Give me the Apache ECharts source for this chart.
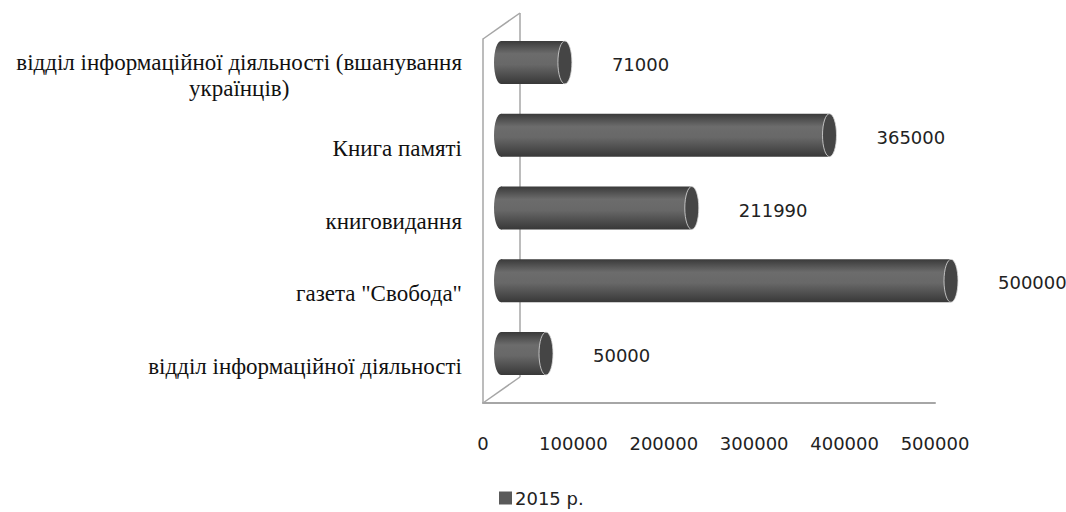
<!DOCTYPE html>
<html>
<head>
<meta charset="utf-8">
<script src="https://cdn.jsdelivr.net/npm/echarts@6/dist/echarts.min.js"></script>
<style>
html,body{margin:0;padding:0;background:#fff;}
#chart{width:1066px;height:512px;}
</style>
</head>
<body>
<div id="chart"></div>
<script>
// ---- data ----
const categories = [
  'відділ інформаційної діяльності',
  'газета "Свобода"',
  'книговидання',
  'Книга памяті',
  'відділ інформаційної діяльності (вшанування українців)'
];
const values2015 = [50000, 500000, 211990, 365000, 71000];
const seriesName = '2015 р.';
const axisMin = 0, axisMax = 500000, axisInterval = 100000;

// ---- layout ----
const front = {left: 483, top: 39, right: 131, bottom: 109};
const depth = {dx: 37, dy: -26};
const mid = {dx: 18, dy: -13};
const W = 1066, H = 512;

const chart = echarts.init(document.getElementById('chart'), null, {renderer: 'svg'});

function wrapLabel(s) {
  const limit = 44;
  if (s.length <= limit) return s;
  const cut = s.lastIndexOf(' ', limit);
  return '{c|' + s.slice(0, cut) + '}\n{c|' + s.slice(cut + 1) + '}';
}

const gridLine = '#a6a6a6';
const fx0 = front.left, fy0 = front.top, fy1 = H - front.bottom;
const serifSize = 23;

const option = {
  backgroundColor: '#fff',
  animation: false,
  grid: [
    {left: front.left, top: front.top, right: front.right, bottom: front.bottom},
    {left: front.left + mid.dx, top: front.top + mid.dy, right: front.right - mid.dx + 2, bottom: front.bottom - mid.dy}
  ],
  xAxis: [
    {
      gridIndex: 0, type: 'value', min: axisMin, max: axisMax, interval: axisInterval,
      axisLine: {show: true, lineStyle: {color: gridLine, width: 2}},
      axisTick: {show: false}, splitLine: {show: false},
      axisLabel: {fontFamily: 'DejaVu Sans', fontSize: 18, color: '#222', margin: 31,
        formatter: function (v) { return String(v); }}
    },
    {
      gridIndex: 1, type: 'value', min: axisMin, max: axisMax, interval: axisInterval,
      show: false
    }
  ],
  yAxis: [
    {
      gridIndex: 0, type: 'category', data: categories,
      axisLine: {show: true, lineStyle: {color: gridLine, width: 1.5}},
      axisTick: {show: false}, splitLine: {show: false},
      axisLabel: {
        fontFamily: 'Liberation Serif', fontSize: serifSize, color: '#111', margin: 21,
        lineHeight: 26,
        formatter: wrapLabel,
        rich: {c: {fontFamily: 'Liberation Serif', fontSize: serifSize, color: '#111', align: 'center', lineHeight: 26}}
      }
    },
    {gridIndex: 1, type: 'category', data: categories, show: false}
  ],
  legend: {
    data: [{name: seriesName, icon: 'rect'}],
    bottom: 0, left: 494, itemWidth: 13, itemHeight: 13, itemGap: 4,
    textStyle: {fontFamily: 'DejaVu Sans', fontSize: 18, color: '#222', padding: [0, 0, 0, -2]}
  },
  graphic: [
    {type: 'line', z: -1, shape: {x1: fx0 + depth.dx, y1: fy0 + depth.dy, x2: fx0 + depth.dx, y2: fy1 + depth.dy}, style: {stroke: gridLine, lineWidth: 1.5}},
    {type: 'line', z: -1, shape: {x1: fx0, y1: fy0, x2: fx0 + depth.dx, y2: fy0 + depth.dy}, style: {stroke: gridLine, lineWidth: 1.5}},
    {type: 'line', z: -1, shape: {x1: fx0, y1: fy1, x2: fx0 + depth.dx, y2: fy1 + depth.dy}, style: {stroke: gridLine, lineWidth: 1.5}}
  ],
  series: [{
    name: seriesName,
    type: 'custom',
    xAxisIndex: 1, yAxisIndex: 1,
    itemStyle: {color: '#5a5a5a'},
    encode: {x: 0, y: 1},
    data: values2015.map((v, i) => [v, i]),
    renderItem: function (params, api) {
      const v = api.value(0), c = api.value(1);
      const s = api.coord([0, c]);
      const e = api.coord([v, c]);
      const h = api.size([0, 1])[1] * 0.59;
      const rx = 7, ry = h / 2;
      const grad = new echarts.graphic.LinearGradient(0, 0, 0, 1, [
        {offset: 0, color: '#3a3a3a'},
        {offset: 0.3, color: '#6c6c6c'},
        {offset: 0.55, color: '#686868'},
        {offset: 1, color: '#383838'}
      ]);
      return {
        type: 'group',
        children: [
          {type: 'ellipse', shape: {cx: s[0], cy: s[1], rx: rx, ry: ry}, style: {fill: grad}},
          {type: 'rect', shape: {x: s[0], y: s[1] - ry, width: e[0] - s[0], height: h}, style: {fill: grad}},
          {type: 'ellipse', shape: {cx: e[0], cy: e[1], rx: rx, ry: ry}, style: {fill: '#454545', stroke: '#dcdcdc', lineWidth: 0.8}},
          {type: 'text', style: {
            x: e[0] + rx + 40, y: e[1] + 2,
            text: String(v), fill: '#222',
            font: '18px "DejaVu Sans"', textAlign: 'left', textVerticalAlign: 'middle'
          }}
        ]
      };
    }
  }]
};
chart.setOption(option);
</script>
</body>
</html>
